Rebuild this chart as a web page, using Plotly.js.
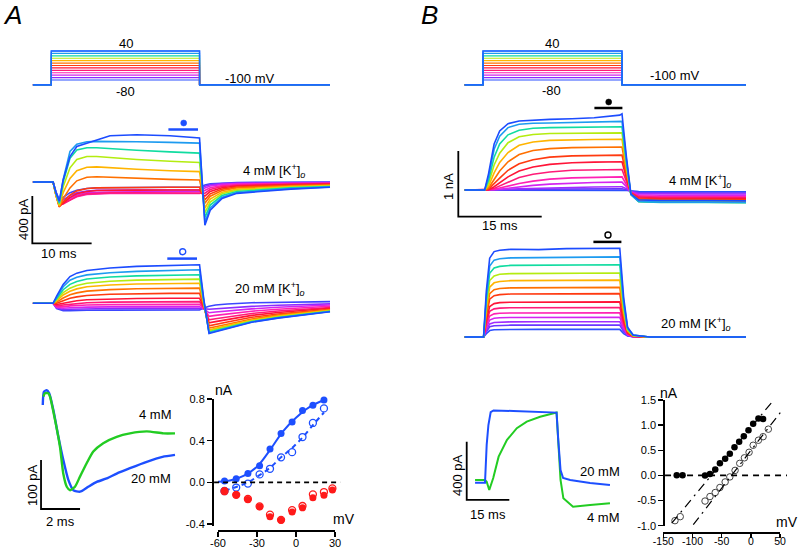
<!DOCTYPE html>
<html><head><meta charset="utf-8">
<script src="https://cdn.plot.ly/plotly-3.0.1.min.js"></script>
<style>html,body{margin:0;padding:0;background:#fff}#plot{width:800px;height:548px}</style>
</head><body><div id="plot"></div>
<script>
// ---------------- DATA ----------------
const stepVoltages = [40,30,20,10,0,-10,-20,-30,-40,-50,-60,-70,-80];
const holdingVoltage = -100;
const protocolTimeA = [-3.1,0,0,25,25,47];
const protocolTimeB = [-3.3,0,0,25,25,47.3];

const colors13 = ['#1c4cff','#1d9bf0','#10dca0','#b4ec10','#ffb400','#ff7000','#ff3a10','#ff1438','#ff1a78','#ff20b4','#d424f0','#8c2cff','#3c46ff'];
const colors14 = ['#1c4cff','#1d9bf0','#10dca0','#b4ec10','#ffb400','#ff7000','#ff3a10','#ff1438','#ff1a78','#ff20b4','#d424f0','#a02cff','#6a36ff','#2c50ff'];

// Panel A, 4 mM (pA)
const timeA4 = [-3.1,0.3,0.8,1.35,2,3.15,4.3,6,7.65,9.9,14.4,20,25,25.45,25.9,26.8,28.8,31.3,35.4,40.4,47];
const currentA4 = [
 [0,0,-90,-160,17,215,300,329,357,391,400,391,372,0,-366,-238,-139,-96,-77,-60,-45],
 [0,0,-95,-170,20,258,320,340,343,343,340,335,329,-5,-340,-220,-128,-90,-72,-56,-42],
 [0,0,-100,-180,0,200,270,290,289,280,268,255,244,-30,-300,-195,-115,-80,-64,-50,-38],
 [0,0,-105,-190,-40,120,190,215,215,205,190,175,165,-50,-260,-170,-100,-70,-56,-44,-34],
 [0,0,-110,-200,-90,30,95,125,128,120,108,95,88,-65,-220,-145,-86,-60,-48,-38,-30],
 [0,0,-115,-210,-140,-50,10,40,45,40,30,22,17,-80,-180,-120,-72,-50,-40,-32,-26],
 [0,0,-115,-210,-170,-110,-75,-55,-50,-48,-46,-45,-45,-95,-150,-100,-60,-42,-34,-27,-22],
 [0,0,-110,-205,-180,-130,-100,-80,-72,-70,-69,-68,-68,-95,-120,-80,-48,-34,-27,-22,-18],
 [0,0,-105,-195,-185,-150,-120,-100,-94,-92,-91,-91,-91,-90,-95,-64,-38,-27,-22,-18,-14],
 [0,0,-100,-185,-180,-150,-125,-105,-99,-97,-96,-96,-96,-82,-70,-48,-30,-21,-16,-13,-10],
 [0,0,-95,-175,-165,-135,-110,-92,-86,-84,-83,-83,-83,-66,-50,-34,-20,-14,-11,-8,-6],
 [0,0,-90,-165,-150,-115,-92,-77,-71,-69,-68,-68,-68,-50,-35,-24,-14,-9,-6,-4,-3],
 [0,0,-85,-150,-130,-90,-70,-55,-49,-47,-46,-45,-45,-35,-25,-15,-8,-4,-2,-1,0]
];
// Panel A, 20 mM (pA)
const timeA20 = [-3.1,0.3,0.9,2,3.15,4.3,6,9.9,14.4,20,25,25.7,26.6,27.7,29.7,33.8,38.2,47];
const currentA20 = [
 [0,0,60,160,226,255,277,298,312,322,326,40,-255,-240,-215,-160,-125,-71],
 [0,0,50,140,195,220,240,258,270,278,283,30,-250,-236,-212,-158,-123,-70],
 [0,0,40,115,160,185,205,222,232,238,241,20,-245,-231,-207,-155,-120,-68],
 [0,0,30,90,128,150,170,186,196,201,204,10,-235,-222,-199,-149,-115,-65],
 [0,0,20,70,102,122,140,155,163,168,170,0,-225,-212,-190,-142,-108,-60],
 [0,0,10,45,72,88,103,116,123,126,128,-10,-210,-198,-176,-132,-100,-55],
 [0,0,0,22,42,54,66,76,81,84,85,-20,-190,-178,-158,-118,-90,-50],
 [0,0,-10,0,15,22,30,37,41,43,43,-30,-165,-155,-137,-102,-78,-42],
 [0,0,-20,-15,-5,0,5,10,13,14,14,-35,-140,-130,-115,-86,-65,-35],
 [0,0,-30,-30,-22,-18,-14,-11,-10,-9,-9,-40,-110,-102,-90,-67,-50,-25],
 [0,0,-35,-42,-38,-35,-32,-30,-29,-29,-29,-45,-80,-74,-64,-47,-34,-15],
 [0,0,-40,-52,-50,-48,-46,-44,-43,-43,-43,-45,-50,-46,-38,-26,-16,-5],
 [0,0,-45,-62,-62,-60,-59,-58,-57,-57,-57,-40,-25,-15,-6,5,10,14]
];
// Panel B, 4 mM (pA)
const timeB4 = [-3.3,0.3,1,2,3,4.5,6.5,9,12,16,20,24.6,25,25.8,26.6,28,32,40,47.3];
const currentB4 = [
 [0,0,250,700,900,1010,1050,1065,1075,1085,1100,1140,1160,500,-60,-150,-160,-160,-165],
 [0,0,200,620,820,950,1000,1015,1020,1025,1030,1040,1045,450,-70,-175,-185,-185,-190],
 [0,0,150,500,700,840,910,940,950,955,958,960,962,420,-70,-180,-190,-190,-195],
 [0,0,100,380,560,720,810,845,860,866,868,870,870,380,-65,-175,-185,-185,-190],
 [0,0,60,260,420,570,680,730,755,765,768,770,770,330,-60,-165,-175,-175,-180],
 [0,0,30,160,290,430,540,600,630,645,652,655,655,280,-55,-150,-160,-160,-165],
 [0,0,15,90,180,300,400,460,500,520,527,530,530,220,-50,-135,-145,-145,-150],
 [0,0,5,50,110,200,290,350,390,415,425,430,430,180,-45,-120,-130,-130,-132],
 [0,0,0,25,60,120,190,240,275,300,310,313,313,130,-40,-105,-115,-115,-118],
 [0,0,0,10,30,60,100,135,165,185,195,200,200,80,-35,-90,-100,-100,-102],
 [0,0,0,5,12,28,50,70,90,105,115,120,120,50,-30,-72,-80,-80,-82],
 [0,0,0,0,5,10,18,25,33,40,46,50,50,20,-25,-55,-60,-60,-62],
 [0,0,0,0,2,4,7,10,13,16,18,20,20,5,-18,-40,-45,-45,-46],
 [0,0,0,0,0,1,2,3,3,4,5,5,5,-5,-12,-25,-28,-28,-28]
];
// Panel B, 20 mM (pA)
const timeB20 = [-3.3,0.1,0.6,1.2,2,3,5,10,15,20,24.6,25.3,26,27,30,40,47.3];
const currentB20 = [
 [0,0,700,1200,1300,1320,1335,1330,1345,1350,1350,600,150,30,0,0,0],
 [0,0,620,1080,1170,1190,1205,1210,1215,1218,1220,540,140,30,0,0,0],
 [0,0,560,970,1050,1075,1090,1095,1098,1100,1100,490,125,25,0,0,0],
 [0,0,490,860,930,955,965,970,975,973,975,430,110,20,0,0,0],
 [0,0,430,760,825,845,858,862,865,864,865,385,100,20,0,0,0],
 [0,0,370,660,720,738,748,752,755,754,755,335,85,15,0,0,0],
 [0,0,320,575,628,645,654,658,660,660,660,295,75,15,0,0,0],
 [0,0,255,465,508,523,530,533,535,535,535,240,60,10,0,0,0],
 [0,0,210,390,428,440,446,448,450,450,450,200,50,10,0,0,0],
 [0,0,170,320,352,362,366,368,370,370,370,165,42,8,0,0,0],
 [0,0,135,258,285,293,297,299,300,300,300,135,35,5,0,0,0],
 [0,0,100,198,220,227,230,231,232,232,232,105,27,5,0,0,0],
 [0,0,80,155,172,178,180,181,182,182,182,82,21,4,0,0,0],
 [0,0,50,98,110,113,115,116,116,116,116,52,14,3,0,0,0]
];
// A bottom-left: tail currents (pA, ms)
const tailTime4mM = [0.07,0.15,0.32,0.41,0.67,0.92,1.09,1.27,1.44,1.69,1.95,2.29,2.63,3.14,3.83,4.51,5.37,6.23,6.82];
const tail4mM = [211,218,218,211,163,109,54,27,20,27,48,75,99,116,129,136,140,136,136];
const tailTime20mM = [0.04,0.1,0.24,0.37,0.58,0.84,1.09,1.35,1.61,1.95,2.37,2.81,3.32,3.83,4.51,5.37,6.18,6.82];
const tail20mM = [194,221,224,218,184,129,82,41,20,17,27,37,44,54,65,78,88,92];
// B bottom: scaled currents (pA, ms)
const scaledTime20mM = [-3.5,0,0.6,1.2,2,3,10,20,25.2,25.8,26.6,27.5,30,37,44];
const scaled20mM = [-12,-12,250,384,473,484,480,473,469,281,75,21,7,-14,-27];
const scaledTime4mM = [-3.5,0,0.6,1.5,2.9,4.8,7.7,11.2,14.7,19.4,25.2,25.8,26.6,27.6,31,37,44];
const scaled4mM = [7,7,-5,-62,20,167,281,362,407,441,469,247,7,-119,-176,-165,-153];
// A I-V (mV, nA)
const ivA_mV = [-55,-46,-37,-28,-20,-11.5,-3,5,13,21.5];
const ivA_4mM = [0.012,0.035,0.086,0.16,0.32,0.47,0.58,0.69,0.74,0.79];
const ivA_20mM = [-0.083,-0.05,-0.012,0.076,0.13,0.24,0.29,0.435,0.57,0.71];
const ivA_fit4_mV = [-60,-50,-40,-30,-20,-10,0,10,21.5];
const ivA_fit4 = [0.005,0.02,0.065,0.15,0.31,0.49,0.62,0.72,0.79];
const ivA_fit20_mV = [-55,-45,-37,-28,-20,-11.5,-3,5,13,21.5];
const ivA_fit20 = [-0.08,-0.04,0.0,0.07,0.14,0.24,0.33,0.43,0.55,0.67];
const ivA_diff_mV = [-55,-46,-37,-28,-20,-11.5,-3,5,13,21.5,28];
const ivA_diffFilled = [-0.08,-0.12,-0.165,-0.235,-0.33,-0.365,-0.285,-0.245,-0.147,-0.125,-0.074];
const ivA_diffOpen = [-0.085,-0.12,-0.16,-0.23,-0.31,-0.36,-0.266,-0.227,-0.115,-0.093,-0.058];
const zeroA_mV = [-63,34];
// B I-V (mV, nA)
const ivB4_mV = [-127,-117,-78.5,-70,-61,-53,-44,-36,-28,-20,-12,-4,4,13,21];
const ivB4 = [0.005,0.005,0,0.03,0.12,0.24,0.33,0.43,0.56,0.67,0.78,0.9,1.03,1.13,1.12];
const ivB20_mV = [-130,-121,-78.5,-70,-61,-53,-44,-36,-27,-19,-11,-3,4,13,21,30];
const ivB20 = [-0.9,-0.82,-0.51,-0.42,-0.34,-0.24,-0.13,-0.03,0.1,0.24,0.35,0.46,0.6,0.7,0.77,0.92];
const fitB4_mV = [-135.6,38.5], fitB4 = [-0.95,1.49];
const fitB20_mV = [-98.6,50.5], fitB20 = [-0.98,1.25];
const zeroB_mV = [-147,62];

// ---------------- LAYOUT HELPERS ----------------
const W = 800, H = 548;
const FONT = 'Liberation Sans, Arial, Helvetica, sans-serif';
function xdom(l, r) { return [l / W, r / W]; }
function ydom(t, b) { return [1 - b / H, 1 - t / H]; }
function xrng(l, r, px0, s) { return [(l - px0) / s, (r - px0) / s]; }
function yrng(t, b, base, k) { return [(base - b) / k, (base - t) / k]; }
function hidden(dom, range, anchor) { return {domain: dom, range: range, visible: false, fixedrange: true, anchor: anchor}; }

const BLUE = '#1d4fff', GREEN = '#22cc22', RED = '#ff1a1a';
const traces = [];
function addSet(times, rows, colors, xa, ya, w) {
  for (let i = rows.length - 1; i >= 0; i--) {
    traces.push({x: times, y: rows[i], xaxis: xa, yaxis: ya, mode: 'lines', type: 'scatter',
      line: {color: colors[i], width: w}, hoverinfo: 'skip'});
  }
}
function addProtocol(times, xa, ya) {
  for (let i = stepVoltages.length - 1; i >= 0; i--) {
    const v = stepVoltages[i];
    traces.push({x: times, y: [holdingVoltage, holdingVoltage, v, v, holdingVoltage, holdingVoltage],
      xaxis: xa, yaxis: ya, mode: 'lines', line: {color: i === stepVoltages.length - 1 ? '#2c50ff' : colors13[i], width: 1.2}, hoverinfo: 'skip'});
  }
  traces.push({x: times, y: [holdingVoltage, holdingVoltage, stepVoltages[0], stepVoltages[0], holdingVoltage, holdingVoltage],
    xaxis: xa, yaxis: ya, mode: 'lines', line: {color: '#1c6cff', width: 1.4}, hoverinfo: 'skip'});
}
addProtocol(protocolTimeA, 'x', 'y');
addSet(timeA4, currentA4, colors13, 'x2', 'y2', 1.6);
addSet(timeA20, currentA20, colors13, 'x3', 'y3', 1.6);
addProtocol(protocolTimeB, 'x4', 'y4');
addSet(timeB4, currentB4, colors14, 'x5', 'y5', 1.6);
addSet(timeB20, currentB20, colors14, 'x6', 'y6', 1.6);

// A bottom-left
traces.push({x: tailTime20mM, y: tail20mM, xaxis: 'x7', yaxis: 'y7', mode: 'lines', line: {color: BLUE, width: 2.4, shape: 'spline', smoothing: 0.6}});
traces.push({x: tailTime4mM, y: tail4mM, xaxis: 'x7', yaxis: 'y7', mode: 'lines', line: {color: GREEN, width: 2.4, shape: 'spline', smoothing: 0.6}});
// B bottom
traces.push({x: scaledTime4mM, y: scaled4mM, xaxis: 'x10', yaxis: 'y10', mode: 'lines', line: {color: GREEN, width: 2}});
traces.push({x: scaledTime20mM, y: scaled20mM, xaxis: 'x10', yaxis: 'y10', mode: 'lines', line: {color: BLUE, width: 2}});

// A IV
traces.push({x: zeroA_mV, y: [0, 0], xaxis: 'x9', yaxis: 'y9', mode: 'lines', line: {color: '#000', width: 1.6, dash: '5px,4px'}});
traces.push({x: ivA_fit4_mV, y: ivA_fit4, xaxis: 'x8', yaxis: 'y8', mode: 'lines', line: {color: BLUE, width: 2, shape: 'spline'}});
traces.push({x: ivA_fit20_mV, y: ivA_fit20, xaxis: 'x8', yaxis: 'y8', mode: 'lines', line: {color: BLUE, width: 2, dash: '5px,4px', shape: 'spline'}});
traces.push({x: ivA_mV, y: ivA_4mM, xaxis: 'x8', yaxis: 'y8', mode: 'markers', cliponaxis: false, marker: {symbol: 'circle', size: 7, color: BLUE}});
traces.push({x: ivA_mV, y: ivA_20mM, xaxis: 'x8', yaxis: 'y8', mode: 'markers', cliponaxis: false, marker: {symbol: 'circle-open', size: 7, color: BLUE, line: {width: 1.3, color: BLUE}}});
traces.push({x: ivA_diff_mV, y: ivA_diffFilled, xaxis: 'x8', yaxis: 'y8', mode: 'markers', cliponaxis: false, marker: {symbol: 'circle', size: 7, color: RED}});
traces.push({x: ivA_diff_mV, y: ivA_diffOpen, xaxis: 'x8', yaxis: 'y8', mode: 'markers', cliponaxis: false, marker: {symbol: 'circle-open', size: 7, color: RED, line: {width: 1.3, color: RED}}});
// B IV
traces.push({x: zeroB_mV, y: [0, 0], xaxis: 'x12', yaxis: 'y12', mode: 'lines', line: {color: '#000', width: 1.6, dash: '6px,5px'}});
traces.push({x: fitB4_mV, y: fitB4, xaxis: 'x12', yaxis: 'y12', mode: 'lines', line: {color: '#000', width: 1.2, dash: '9px,5px,2px,5px'}});
traces.push({x: fitB20_mV, y: fitB20, xaxis: 'x12', yaxis: 'y12', mode: 'lines', line: {color: '#000', width: 1.2, dash: '9px,5px,2px,5px'}});
traces.push({x: ivB4_mV, y: ivB4, xaxis: 'x11', yaxis: 'y11', mode: 'markers', cliponaxis: false, marker: {symbol: 'circle', size: 6.5, color: '#000'}});
traces.push({x: ivB20_mV, y: ivB20, xaxis: 'x11', yaxis: 'y11', mode: 'markers', cliponaxis: false, marker: {symbol: 'circle-open', size: 6.5, color: '#444', line: {width: 1, color: '#444'}}});

// ---------------- AXES ----------------
const layout = {
  width: W, height: H, margin: {l: 0, r: 0, t: 0, b: 0},
  paper_bgcolor: '#fff', plot_bgcolor: 'rgba(0,0,0,0)', showlegend: false,
  font: {family: FONT, size: 13, color: '#000'},
  xaxis: hidden(xdom(20, 345), xrng(20, 345, 51.3, 5.93), 'y'),
  yaxis: hidden(ydom(35, 100), yrng(35, 100, 60.67, 0.2417), 'x'),
  xaxis2: hidden(xdom(20, 345), xrng(20, 345, 51.3, 5.93), 'y2'),
  yaxis2: hidden(ydom(100, 252), yrng(100, 252, 182, 0.1183), 'x2'),
  xaxis3: hidden(xdom(20, 345), xrng(20, 345, 51.3, 5.93), 'y3'),
  yaxis3: hidden(ydom(245, 350), yrng(245, 350, 303.3, 0.1183), 'x3'),
  xaxis4: hidden(xdom(455, 765), xrng(455, 765, 483, 5.56), 'y4'),
  yaxis4: hidden(ydom(35, 100), yrng(35, 100, 60.67, 0.2417), 'x4'),
  xaxis5: hidden(xdom(455, 765), xrng(455, 765, 483, 5.56), 'y5'),
  yaxis5: hidden(ydom(90, 235), yrng(90, 235, 190, 0.0657), 'x5'),
  xaxis6: hidden(xdom(455, 765), xrng(455, 765, 483, 5.56), 'y6'),
  yaxis6: hidden(ydom(225, 352), yrng(225, 352, 337, 0.0657), 'x6'),
  xaxis7: hidden(xdom(30, 190), xrng(30, 190, 42, 19.5), 'y7'),
  yaxis7: hidden(ydom(375, 520), yrng(375, 520, 500, 0.49), 'x7'),
  xaxis9: hidden(xdom(205, 350), [-60 + (205 - 218) / 1.3, -60 + (350 - 218) / 1.3], 'y9'),
  yaxis9: hidden(ydom(399, 526.1), [-0.42, 0.8], 'x9'),
  xaxis10: hidden(xdom(455, 625), xrng(455, 625, 485, 2.84), 'y10'),
  yaxis10: hidden(ydom(390, 520), yrng(390, 520, 481, 0.1458), 'x10'),
  xaxis12: hidden(xdom(650, 798), [-150 + (650 - 663.3) / 0.5835, -150 + (798 - 663.3) / 0.5835], 'y12'),
  yaxis12: hidden(ydom(400, 525.7), [-1.0, 1.5], 'x12')
};
const axStyle = {showline: true, linecolor: '#000', linewidth: 1.5, ticks: 'outside', ticklen: 5, tickwidth: 1.5,
  tickcolor: '#000', showgrid: false, zeroline: false, fixedrange: true, tickfont: {family: FONT, size: 11, color: '#000'}};
layout.xaxis8 = Object.assign({}, axStyle, {domain: xdom(218, 335), range: [-60, 30], anchor: 'free', position: 1 - 530 / H,
  ticklabelstandoff: -3, tickvals: [-60, -30, 0, 30], ticktext: ['-60', '-30', '0', '30']});
layout.yaxis8 = Object.assign({}, axStyle, {domain: ydom(399, 526.1), range: [-0.42, 0.8], anchor: 'free', position: 212 / W,
  tickvals: [-0.4, 0, 0.4, 0.8], ticktext: ['-0.4', '0.0', '0.4', '0.8']});
layout.xaxis11 = Object.assign({}, axStyle, {domain: xdom(663.3, 780), range: [-150, 50], anchor: 'free', position: 1 - 532 / H,
  ticklen: 4, ticklabelstandoff: -5, tickfont: {family: FONT, size: 10.5, color: '#000'},
  tickvals: [-150, -100, -50, 0, 50], ticktext: ['-150', '-100', '-50', '0', '50']});
layout.yaxis11 = Object.assign({}, axStyle, {domain: ydom(400, 525.7), range: [-1.0, 1.5], anchor: 'free', position: 663.3 / W,
  tickvals: [-1, -0.5, 0, 0.5, 1, 1.5], ticktext: ['-1.0', '-0.5', '0.0', '0.5', '1.0', '1.5']});

// ---------------- ANNOTATIONS ----------------
function txt(text, x, y, opts) {
  return Object.assign({text: text, x: x / W, y: 1 - y / H, xref: 'paper', yref: 'paper', showarrow: false,
    xanchor: 'center', yanchor: 'middle', font: {family: FONT, size: 13, color: '#000'}}, opts || {});
}
const K = (c) => c + ' mM [K<sup>+</sup>]<sub><i>o</i></sub>';
const F14 = {font: {family: FONT, size: 14, color: '#000'}};
layout.annotations = [
  txt('<i>A</i>', 12, 15, {font: {family: FONT, size: 26, color: '#000'}, borderpad: 0}),
  txt('<i>B</i>', 429, 15, {font: {family: FONT, size: 26, color: '#000'}, borderpad: 0}),
  txt('40', 126.5, 43), txt('-80', 125.5, 91), txt('-100 mV', 249, 78),
  txt('40', 552, 43), txt('-80', 551, 90.5), txt('-100 mV', 674, 76),
  txt(K('4'), 274, 171), txt(K('20'), 270, 289), txt(K('4'), 700, 181), txt(K('20'), 696, 324),
  txt('400 pA', 23, 219, {textangle: -90}), txt('10 ms', 59, 253),
  txt('1 nA', 448, 187, {textangle: -90}), txt('15 ms', 500, 225),
  txt('4 mM', 155, 414), txt('20 mM', 151, 478), txt('100 pA', 32, 485, {textangle: -90}), txt('2 ms', 60, 521),
  txt('20 mM', 600, 472), txt('4 mM', 603, 517), txt('400 pA', 457, 475, {textangle: -90}), txt('15 ms', 488, 514),
  txt('nA', 224, 390, F14), txt('mV', 344, 519, F14),
  txt('nA', 669, 393, F14), txt('mV', 787, 522, F14)
];

// ---------------- SHAPES (scale bars, measurement windows) ----------------
function px(x) { return x / W; } function py(y) { return 1 - y / H; }
function scaleBar(xa, ya, t0, i0, dt, di) {
  return {type: 'path', xref: xa, yref: ya, path: `M ${t0},${i0 + di} L ${t0},${i0} L ${t0 + dt},${i0}`,
    line: {color: '#000', width: 1.8}};
}
function pline(x0, x1, y, c) { return {type: 'line', xref: 'paper', yref: 'paper', x0: px(x0), x1: px(x1), y0: py(y), y1: py(y), line: {color: c, width: 2.5}}; }
function pdot(cx, cy, c, filled) {
  return {type: 'circle', xref: 'paper', yref: 'paper', x0: px(cx - 3), x1: px(cx + 3), y0: py(cy + 3), y1: py(cy - 3),
    fillcolor: filled ? c : 'rgba(0,0,0,0)', line: {color: c, width: filled ? 0.5 : 1.4}};
}
layout.shapes = [
  scaleBar('x2', 'y2', -3.2, -518, 10, 400),
  scaleBar('x5', 'y5', -4.44, -406, 15, 1000),
  scaleBar('x7', 'y7', -0.05, -18.4, 2, 100),
  scaleBar('x10', 'y10', -6.44, -130, 15, 400),
  pline(168.4, 198, 129.5, BLUE), pdot(183.7, 123, BLUE, true),
  pline(167.3, 197, 258.6, BLUE), pdot(182.7, 251.7, BLUE, false),
  pline(594.4, 622.4, 108, '#000'), pdot(608.7, 102, '#000', true),
  pline(593.4, 621.4, 241.9, '#000'), pdot(608, 235, '#000', false)
];

Plotly.newPlot('plot', traces, layout, {displayModeBar: false, staticPlot: true});
</script></body></html>
